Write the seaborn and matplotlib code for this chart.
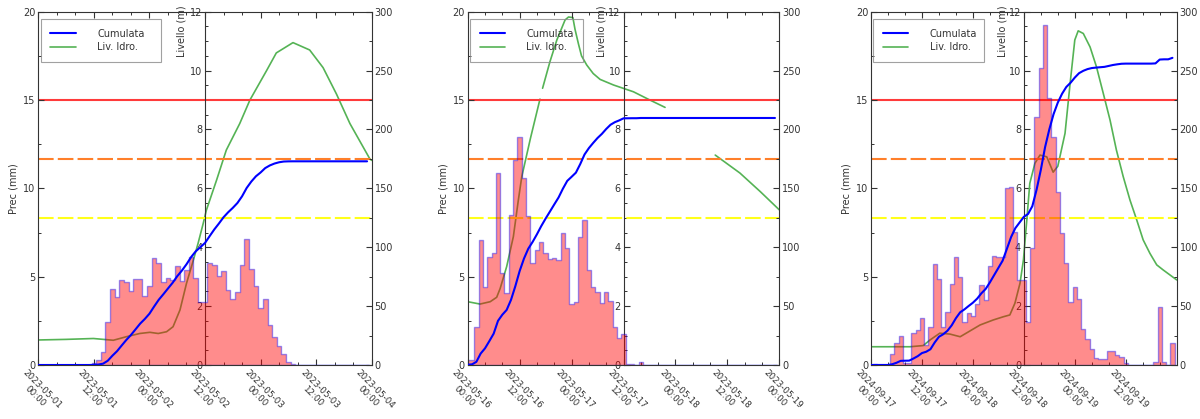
import numpy as np
import matplotlib
matplotlib.use("Agg")
import matplotlib.pyplot as plt
from matplotlib.ticker import FixedLocator, FixedFormatter, MultipleLocator
import seaborn as sns

# ---------------------------------------------------------------------------
# Hourly rainfall (mm), one value per hour starting at 00:00 of the first day
# ---------------------------------------------------------------------------
prec_evento1 = [
    0, 0, 0, 0, 0, 0, 0, 0, 0, 0, 0, 0,
    0.13, 0.28, 0.75, 2.45, 4.28, 3.83, 4.81, 4.72, 4.19, 4.85, 4.87, 3.92,
    4.47, 6.04, 5.75, 4.72, 4.90, 4.81, 5.60, 4.75, 5.38, 6.13, 4.90, 3.55,
    3.55, 5.79, 5.66, 5.04, 5.32, 4.25, 3.72, 4.15, 5.66, 7.11, 5.43, 4.49,
    3.21, 3.74, 2.26, 1.60, 1.09, 0.62, 0.15, 0.04, 0, 0, 0, 0,
    0, 0, 0, 0, 0, 0, 0, 0, 0, 0, 0, 0,
]
prec_evento2 = [
    0.28, 0.28, 2.13, 7.07, 4.40, 6.13, 6.36, 10.85, 5.20, 4.06, 8.50, 11.60,
    12.90, 10.58, 8.43, 5.75, 6.50, 6.98, 6.32, 5.98, 6.04, 5.94, 7.45, 6.60,
    3.45, 3.55, 7.26, 8.20, 5.38, 4.43, 4.15, 3.49, 4.15, 3.62, 2.17, 1.51,
    1.75, 0.06, 0.06, 0, 0.19, 0, 0, 0, 0, 0, 0, 0,
    0, 0, 0, 0, 0, 0, 0, 0, 0, 0, 0, 0,
    0, 0, 0, 0, 0, 0, 0, 0, 0, 0, 0, 0,
]
prec_evento3 = [
    0, 0.03, 0, 0, 0, 0.62, 1.23, 1.66, 0.09, 0.09, 1.79, 1.98,
    2.64, 1.13, 2.13, 5.72, 4.85, 2.13, 2.98, 4.58, 6.10, 5.00, 2.45, 2.92,
    2.77, 3.45, 4.53, 3.68, 5.60, 6.17, 6.13, 6.13, 10.00, 10.10, 7.55, 4.80,
    4.80, 2.45, 6.60, 14.05, 16.80, 19.25, 15.13, 12.92, 9.81, 7.49, 5.75, 3.59,
    4.40, 3.72, 2.02, 1.45, 0.89, 0.38, 0.32, 0.32, 0.79, 0.79, 0.57, 0.47,
    0.13, 0, 0, 0, 0, 0, 0, 0.19, 3.26, 0.19, 0, 1.26,
]

# ---------------------------------------------------------------------------
# Hydrometric level (m): hours from the start of the window and readings
# (NaN = missing readings, the line is interrupted there)
# ---------------------------------------------------------------------------
liv_ore1 = [0, 6, 11.9, 16.2, 19.0, 21.9, 24.1, 25.9, 27.7, 29.1, 30.6, 32.0,
            33.5, 34.5, 35.6, 36.3, 38.5, 40.6, 43.5, 45.7, 49.3, 51.4, 55.0,
            58.6, 61.5, 64.4, 67.3, 71.6, 72.0]
liv_evento1 = [0.85, 0.87, 0.90, 0.84, 0.96, 1.07, 1.11, 1.07, 1.13, 1.30, 1.87,
               2.77, 3.57, 4.13, 4.80, 5.26, 6.28, 7.30, 8.20, 9.00, 10.00,
               10.60, 10.95, 10.70, 10.10, 9.20, 8.20, 7.00, 6.95]

liv_ore2 = [0, 2.85, 5.2, 6.7, 7.5, 9.0, 10.55, 11.7, 12.5, 14.5, 16.7, 17.0,
            17.3, 19.0, 20.6, 22.5, 23.3, 24.3, 24.8, 25.6, 26.3, 27.5, 29.0,
            30.6, 33.7, 38.3, 42.1, 45.6, 51.0, 57.2, 62.9, 67.6, 72.0]
liv_evento2 = [2.15, 2.07, 2.15, 2.30, 2.60, 3.34, 4.36, 5.60, 6.40, 7.70, 9.03,
               np.nan, 9.40, 10.30, 11.04, 11.72, 11.82, 11.80, 11.40, 10.90,
               10.50, 10.19, 9.90, 9.70, 9.51, 9.28, 9.00, 8.75, np.nan, 7.13,
               6.52, 5.89, 5.27]

liv_ore3 = [0, 9.2, 12.3, 13.9, 16.2, 18.6, 21.0, 25.7, 28.8, 31.2, 32.7, 33.9,
            35.1, 35.9, 36.7, 37.4, 38.6, 39.8, 41.4, 42.9, 44.0, 45.7, 46.9,
            48.0, 48.8, 50.0, 51.6, 53.1, 54.7, 56.3, 57.8, 59.4, 61.0, 62.6,
            64.1, 65.7, 67.3, 68.8, 70.4, 72.0]
liv_evento3 = [0.62, 0.62, 0.66, 0.85, 1.08, 1.05, 0.96, 1.36, 1.53, 1.64, 1.70,
               2.10, 2.78, 3.57, 4.93, 6.17, 6.85, 7.13, 7.07, 6.55, 6.75, 7.87,
               9.57, 11.04, 11.35, 11.26, 10.80, 10.13, 9.23, 8.32, 7.30, 6.40,
               5.60, 4.92, 4.25, 3.79, 3.40, 3.23, 3.06, 2.89]

# ---------------------------------------------------------------------------
# Time-axis labels (every 12 hours)
# ---------------------------------------------------------------------------
etichette1 = ["2023-05-01\n00:00", "2023-05-01\n12:00", "2023-05-02\n00:00",
              "2023-05-02\n12:00", "2023-05-03\n00:00", "2023-05-03\n12:00",
              "2023-05-04\n00:00"]
etichette2 = ["2023-05-16\n00:00", "2023-05-16\n12:00", "2023-05-17\n00:00",
              "2023-05-17\n12:00", "2023-05-18\n00:00", "2023-05-18\n12:00",
              "2023-05-19\n00:00"]
etichette3 = ["2024-09-17\n00:00", "2024-09-17\n12:00", "2024-09-18\n00:00",
              "2024-09-18\n12:00", "2024-09-19\n00:00", "2024-09-19\n12:00"]

# Hydrometric alert thresholds (m)
soglie = [9.0, 7.0, 5.0]
colori_soglie = ["#ff3b3b", "#ff7f2a", "#ffff1a"]
stili_soglie = ["-", (0, (7.5, 2)), (0, (7.5, 2))]

eventi = [
    (prec_evento1, liv_ore1, liv_evento1, etichette1),
    (prec_evento2, liv_ore2, liv_evento2, etichette2),
    (prec_evento3, liv_ore3, liv_evento3, etichette3),
]

# ---------------------------------------------------------------------------
# Styling / layout
# ---------------------------------------------------------------------------
sns.set_theme(style="white")
plt.rcParams["font.family"] = ["DejaVu Sans"]
plt.rcParams["font.size"] = 7

GRIGIO = "#333333"
VERDE = "#55b355"
BLU = "#0000ff"

FIG_W, FIG_H = 1200, 419
colonne_px = [(38.3, 371.7), (467.7, 779.3), (871.0, 1176.7)]
alto_px, basso_px = 11.7, 365.0

ORE = np.arange(72)
BORDI = list(np.arange(-0.5, 72.5, 1.0))

fig = plt.figure(figsize=(FIG_W / 100, FIG_H / 100), dpi=100)
fig.patch.set_facecolor("white")


def stile_assi(ax):
    ax.tick_params(which="major", direction="in", length=4, width=0.8,
                   color=GRIGIO, labelcolor=GRIGIO, labelsize=7)
    ax.tick_params(which="minor", direction="in", length=2, width=0.7,
                   color=GRIGIO)
    for sp in ax.spines.values():
        sp.set_color(GRIGIO)
        sp.set_linewidth(0.8)


for (prec, liv_ore, liv, etichette), (x0, x1) in zip(eventi, colonne_px):
    rect = [x0 / FIG_W, 1 - basso_px / FIG_H, (x1 - x0) / FIG_W,
            (basso_px - alto_px) / FIG_H]
    ax_p = fig.add_axes(rect)       # rainfall (left axis)
    ax_l = ax_p.twinx()             # hydrometric level (axis in the middle)
    ax_c = ax_p.twinx()             # cumulated rainfall (right axis)

    # stacking: level below, rainfall bars above it, cumulated on top
    ax_l.set_zorder(0)
    ax_p.set_zorder(1)
    ax_c.set_zorder(2)
    ax_l.patch.set_visible(True)
    ax_l.set_facecolor("white")
    ax_p.patch.set_visible(False)
    ax_c.patch.set_visible(False)

    # --- hydrometric level --------------------------------------------------
    ore_l = np.asarray(liv_ore, float)
    val_l = np.asarray(liv, float)
    ok = ~np.isnan(val_l)
    tratto = np.cumsum(~ok)
    for s in np.unique(tratto[ok]):
        m = ok & (tratto == s)
        sns.lineplot(x=ore_l[m], y=val_l[m], ax=ax_l, color=VERDE,
                     linewidth=1.2, estimator=None)
    linea_liv = ax_l.lines[0]
    for q, c, ls in zip(soglie, colori_soglie, stili_soglie):
        ax_l.axhline(q, color=c, linestyle=ls, linewidth=1.5)

    # --- hourly rainfall ------------------------------------------------------
    sns.histplot(x=ORE, weights=prec, bins=BORDI, element="step", fill=True,
                 facecolor=(1.0, 0.0, 0.0, 0.45), edgecolor=(0.0, 0.0, 1.0, 0.4),
                 linewidth=1.0, ax=ax_p)

    # --- cumulated rainfall ---------------------------------------------------
    sns.lineplot(x=ORE, y=np.cumsum(prec), ax=ax_c, color=BLU, linewidth=1.5,
                 estimator=None)
    linea_cum = ax_c.lines[-1]

    # --- axes -----------------------------------------------------------------
    ax_p.set_xlim(0, 72)
    ax_p.set_ylim(0, 20)
    ax_l.set_ylim(0, 12)
    ax_c.set_ylim(0, 300)

    ax_p.xaxis.set_major_locator(FixedLocator(np.arange(len(etichette)) * 12))
    ax_p.xaxis.set_major_formatter(FixedFormatter(etichette))
    ax_p.xaxis.set_minor_locator(MultipleLocator(4))
    ax_p.yaxis.set_major_locator(MultipleLocator(5))
    ax_p.yaxis.set_minor_locator(MultipleLocator(2.5))
    ax_l.yaxis.set_major_locator(MultipleLocator(2))
    ax_l.yaxis.set_minor_locator(MultipleLocator(0.5))
    ax_c.yaxis.set_major_locator(MultipleLocator(50))
    ax_c.yaxis.set_minor_locator(MultipleLocator(25))

    for ax in (ax_p, ax_l, ax_c):
        stile_assi(ax)

    ax_p.tick_params(axis="x", which="both", top=True, bottom=True)
    ax_p.tick_params(axis="x", labelrotation=-45, pad=2, labelsize=6.3)
    ax_p.tick_params(axis="y", which="both", left=True, right=False, pad=2)
    ax_p.spines["right"].set_visible(False)
    ax_p.set_xlabel("")
    ax_p.set_ylabel("Prec (mm)", fontsize=7, color=GRIGIO, labelpad=3)

    ax_l.yaxis.set_ticks_position("left")
    ax_l.yaxis.set_label_position("left")
    ax_l.spines["left"].set_position(("axes", 0.5))
    for k in ("right", "top", "bottom"):
        ax_l.spines[k].set_visible(False)
    ax_l.tick_params(axis="y", which="both", pad=2)
    ax_l.set_ylabel("Livello (m)", fontsize=7, color=GRIGIO)
    ax_l.yaxis.set_label_coords(0.446, 0.945)

    for k in ("left", "top", "bottom"):
        ax_c.spines[k].set_visible(False)
    ax_c.tick_params(axis="y", which="both", pad=2)
    ax_c.set_ylabel("")

    leg = ax_c.legend([linea_cum, linea_liv], ["Cumulata", "Liv. Idro."],
                      loc="upper left", bbox_to_anchor=(0.007, 0.5, 0.362, 0.479),
                      mode="expand", borderaxespad=0, frameon=True,
                      fancybox=False, fontsize=7, handlelength=2.6,
                      handletextpad=2.2, borderpad=1.0, labelspacing=0.35)
    leg.get_frame().set_facecolor("none")
    leg.get_frame().set_edgecolor("#8a8a8a")
    leg.get_frame().set_linewidth(0.8)
    for t in leg.get_texts():
        t.set_color(GRIGIO)

fig.savefig("out.png", dpi=100, facecolor="white")
